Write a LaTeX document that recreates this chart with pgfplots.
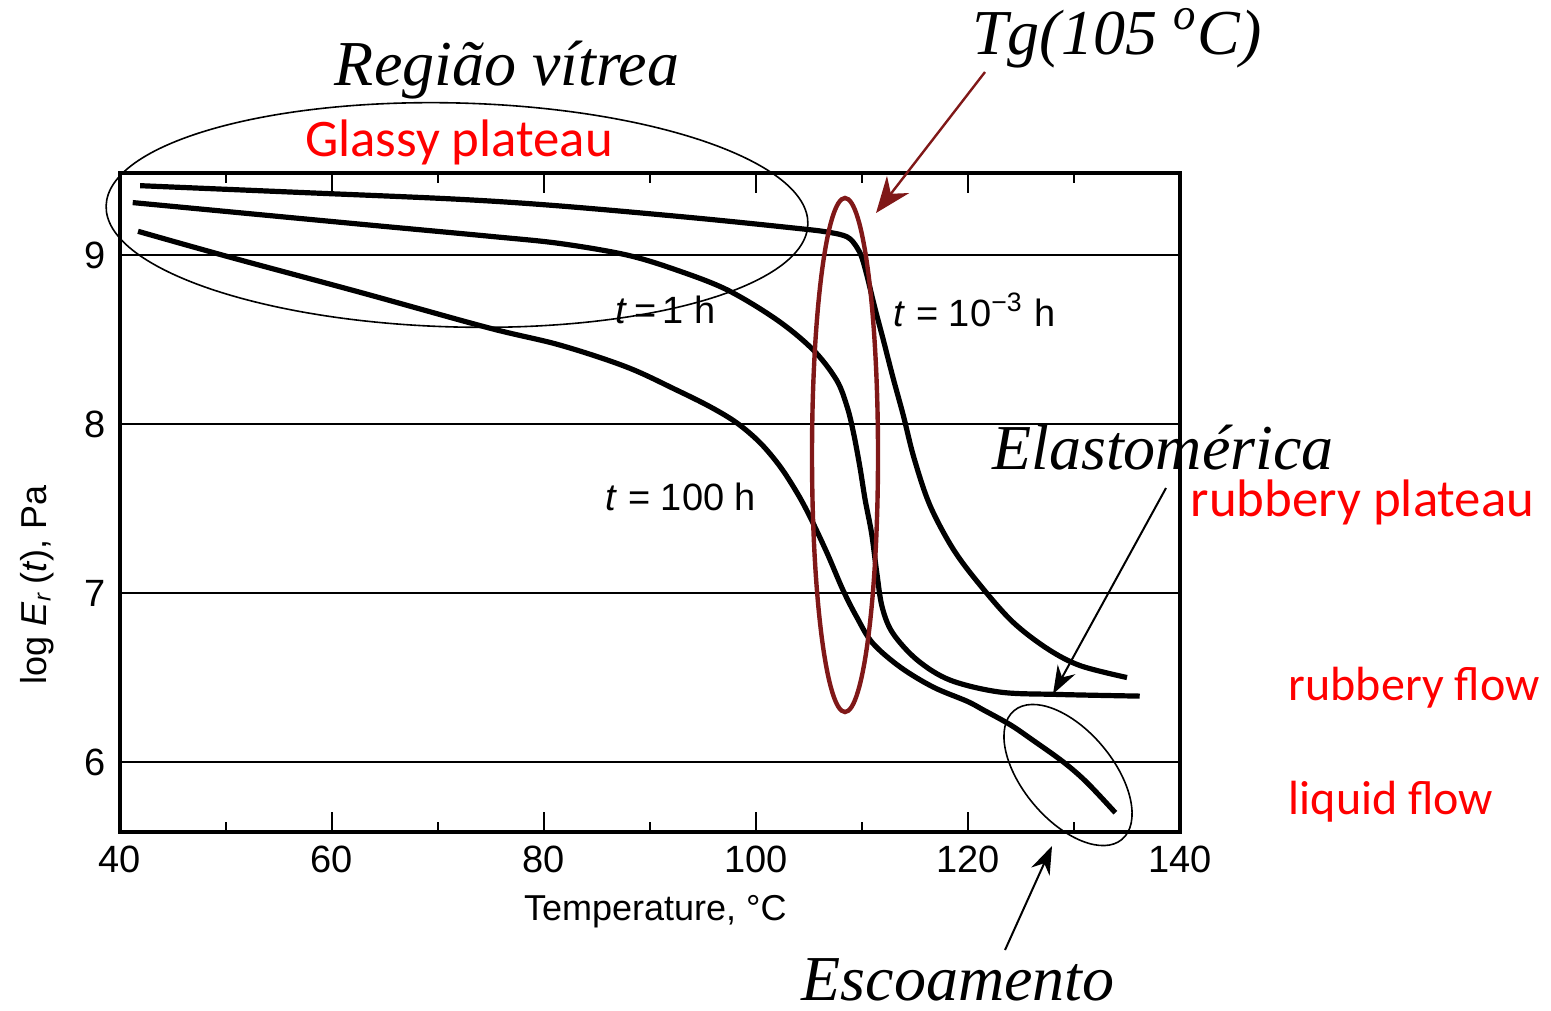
\documentclass[border=0pt]{standalone}
\usepackage{fontspec}
\setmainfont{Liberation Sans}
\newfontfamily\timesfont{Liberation Serif}
\newfontfamily\calfont{Carlito}
\usepackage{pgfplots}
\pgfplotsset{compat=1.18}
\usetikzlibrary{arrows.meta}
\definecolor{darkred}{RGB}{128,24,24}
\definecolor{labred}{RGB}{255,0,0}
\begin{document}
\begin{tikzpicture}
\path[use as bounding box] (0,0) rectangle (387.75pt,252.5pt);
\begin{axis}[
  at={(30pt,44.5pt)}, anchor=south west,
  scale only axis, width=265pt, height=164.75pt,
  xmin=40, xmax=140, ymin=5.586, ymax=9.485,
  xtick={40,60,...,140}, minor xtick={50,70,...,130},
  ytick={6,7,8,9},
  xtick pos=both, xticklabel pos=lower,
  ytick pos=left,
  ymajorgrids, grid style={black, line width=0.5pt},
  axis line style={line width=0.8pt},
  tick align=inside,
  major tick length=5pt, minor tick length=2.5pt,
  xtick style={black, line width=0.6pt},
  ytick style={draw=none},
  /pgf/number format/assume math mode=true,
  tick label style={font=\fontsize{9.5}{11}\selectfont},
  xlabel={Temperature, °C},
  ylabel={log \textit{E}\textsubscript{\textit{r}}\,(\textit{t}), Pa},
  label style={font=\fontsize{9}{11}\selectfont},
  xlabel style={at={(axis description cs:0.505,-0.121)}, anchor=center},
  ylabel style={at={(axis description cs:-0.078,0.375)}, anchor=center},
]
% t = 10^-3 h
\addplot[black, line width=1.3pt, smooth, tension=0.55] coordinates {
 (41.9,9.41) (57,9.37) (71.8,9.33) (81.5,9.29) (94.1,9.22) (103.5,9.16)
 (106.7,9.136) (108.6,9.107) (109.5,9.047) (110.0,8.982) (110.5,8.870)
 (111.2,8.69) (112.0,8.50) (112.9,8.28) (113.9,8.05) (114.9,7.80)
 (116.4,7.52) (118.6,7.26) (121.1,7.05) (124.2,6.83) (127.5,6.67)
 (130.6,6.57) (135.0,6.50)
};
% t = 1 h
\addplot[black, line width=1.3pt, smooth, tension=0.55] coordinates {
 (41.2,9.31) (62.2,9.185) (75.0,9.11) (81.5,9.068) (87.8,9.0) (92.5,8.911)
 (97.3,8.793) (102.0,8.615) (105.4,8.438) (107.6,8.260) (108.6,8.101)
 (109.2,7.947) (109.8,7.746) (110.3,7.550) (110.9,7.355) (111.4,7.118)
 (111.9,6.917) (112.9,6.763) (115.2,6.604) (118.3,6.485) (123.0,6.414)
 (128.4,6.40) (136.2,6.39)
};
% t = 100 h
\addplot[black, line width=1.3pt, smooth, tension=0.55] coordinates {
 (41.7,9.14) (50.2,8.99) (62.6,8.78) (74.7,8.57) (81.5,8.467) (87.8,8.337)
 (92.5,8.201) (95.7,8.101) (98.2,8.006) (100.4,7.888) (102.3,7.746)
 (103.9,7.59) (105.1,7.45) (106.7,7.237) (108.2,7.018) (109.5,6.858)
 (111.0,6.704) (113.6,6.562) (116.7,6.444) (119.9,6.36) (121.4,6.31)
 (124.0,6.22) (126.1,6.13) (129.0,6.00) (131.2,5.88) (133.9,5.70)
};
\end{axis}
\begin{scope}[shift={(0,252.5pt)}, x=0.25pt, y=-0.25pt]
 % curve labels
 \node[anchor=west, inner sep=0, font=\fontsize{9.5}{11}\selectfont] at (893,310) {\textit{t} = 10\textsuperscript{−3} h};
 \node[anchor=west, inner sep=0, font=\fontsize{9.5}{11}\selectfont] at (615,310) {\textit{t}\,=\,1 h};
 \node[anchor=west, inner sep=0, font=\fontsize{9.5}{11}\selectfont] at (605,497) {\textit{t} = 100 h};
 % ellipses
 \draw[black, line width=0.4pt, rotate around={-1.5:(457,215)}] (457,215) ellipse[x radius=351, y radius=112];
 \draw[darkred, line width=1.1pt] (845,455) ellipse[x radius=33, y radius=257];
 \draw[black, line width=0.4pt, rotate around={-50:(1068,775)}] (1068,775) ellipse[x radius=84, y radius=45];
 % arrows
 \draw[darkred, line width=0.6pt, -{Stealth[length=9pt,width=7pt]}] (985,72) -- (876,213);
 \draw[black, line width=0.5pt, -{Stealth[length=7pt,width=5pt]}] (1166,488) -- (1053,694);
 \draw[black, line width=0.5pt, -{Stealth[length=7pt,width=5pt]}] (1005,950) -- (1052,846);
 % texts
 \node[inner sep=0, font=\timesfont\itshape\fontsize{16}{18}\selectfont] at (507,70) {Região vítrea};
 \node[inner sep=0, font=\calfont\fontsize{13.2}{15}\selectfont, text=labred] at (459,142) {Glassy plateau};
 \node[inner sep=0, font=\timesfont\itshape\fontsize{16}{18}\selectfont] at (1117,38) {Tg(105 \textsuperscript{o}C)};
 \node[inner sep=0, font=\timesfont\itshape\fontsize{16}{18}\selectfont] at (1163,448) {Elastomérica};
 \node[inner sep=0, anchor=west, font=\calfont\fontsize{13.2}{15}\selectfont, text=labred] at (1190,502) {rubbery plateau};
 \node[inner sep=0, anchor=west, font=\calfont\fontsize{12}{14}\selectfont, text=labred] at (1288,688) {rubbery flow};
 \node[inner sep=0, anchor=west, font=\calfont\fontsize{12}{14}\selectfont, text=labred] at (1288,802) {liquid flow};
 \node[inner sep=0, font=\timesfont\itshape\fontsize{16}{18}\selectfont] at (958,980) {Escoamento};
\end{scope}
\end{tikzpicture}
\end{document}
